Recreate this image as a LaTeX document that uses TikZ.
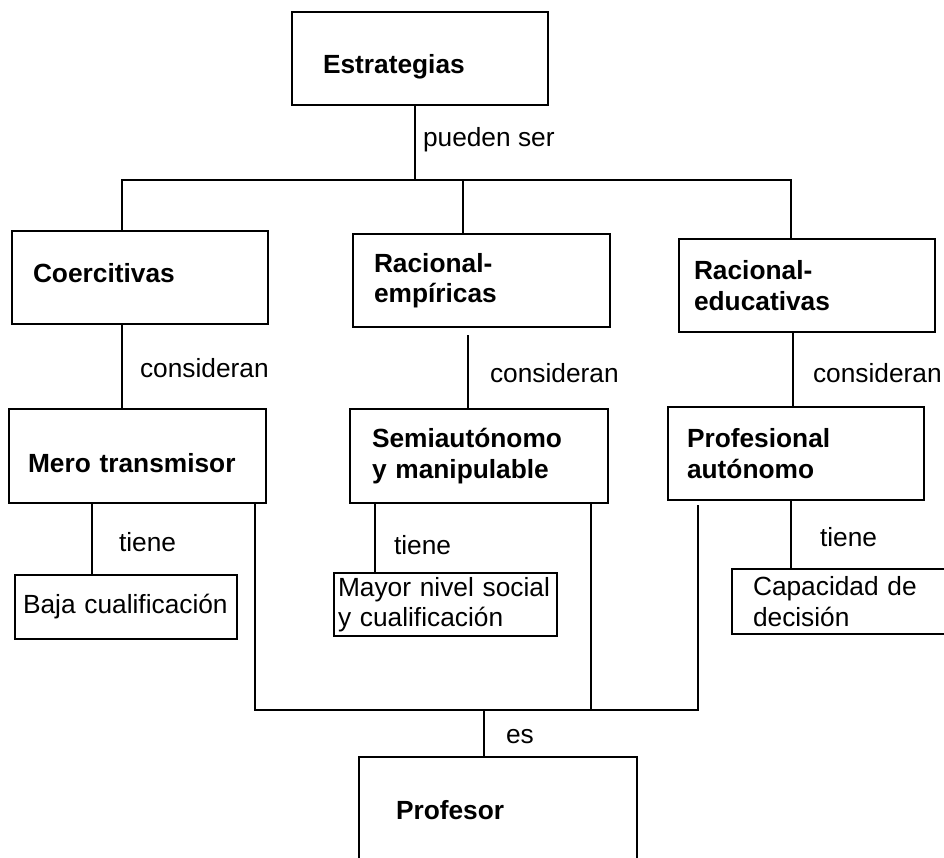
\documentclass[tikz,border=0pt]{standalone}
\usepackage{fontspec}
\setmainfont{Liberation Sans}
\usetikzlibrary{calc}
\begin{document}
\begin{tikzpicture}[x=1pt,y=-1pt,line width=2pt,
  every node/.style={font=\fontsize{26.3}{30.5}\selectfont},
  box/.style={draw,rectangle,inner sep=0pt,align=left,font=\fontsize{26.3}{30.5}\selectfont\bfseries},
  plainbox/.style={draw,rectangle,inner sep=0pt,align=left,font=\fontsize{26.3}{30.5}\selectfont},
  boxsz/.style n args={3}{minimum width=#1pt,minimum height=#2pt,text width=#3pt},
  lbl/.style={anchor=west,inner sep=0pt}]
\useasboundingbox (0,0) rectangle (944,857);
\clip (0,0) rectangle (944,857);
% boxes
\node[box,boxsz={256}{93}{194},text height=29pt,text depth=0pt] (est) at (420,58.5) {Estrategias};
\node[box,boxsz={256}{93}{214},text height=10pt,text depth=0pt] (coer) at (140,277.5) {Coercitivas};
\node[box,boxsz={257}{93}{215}] (remp) at (481.5,280.5) {Racional-\\empíricas};
\node[box,boxsz={256}{93}{226}] (redu) at (807,285.5) {Racional-\\educativas};
\node[box,boxsz={257}{94}{219},text height=33pt,text depth=0pt] (mero) at (137.5,456) {Mero transmisor};
\node[box,boxsz={258}{94}{214}] (semi) at (479,456) {Semiautónomo\\y manipulable};
\node[box,boxsz={256}{93}{218}] (prof) at (796,453.5) {Profesional\\autónomo};
\node[plainbox,boxsz={222}{64}{206}] (baja) at (126,607) {\mbox{Baja cualificación}};
\node[plainbox,boxsz={223}{63}{215}] (mayor) at (445.5,604.5) {Mayor nivel social\\y cualificación};
\node[plainbox,boxsz={228}{65}{186}] (cap) at (846,601.5) {Capacidad de\\decisión};
\node[box,boxsz={278}{113}{204},text height=12pt,text depth=0pt] (profe) at (498,813.5) {Profesor};
% x positions
\coordinate (x92) at (92,0);
\coordinate (x122) at (122,0);
\coordinate (x375) at (375,0);
\coordinate (x468) at (468,0);
\coordinate (x791) at (791,0);
\coordinate (x793) at (793,0);
% junctions
\coordinate (jt) at (415,180);
\coordinate (jl) at (122,180);
\coordinate (jm) at (463,180);
\coordinate (jr) at (791,180);
\coordinate (bl) at (255,710);
\coordinate (bm) at (591,710);
\coordinate (br) at (698,710);
\coordinate (bc) at (484,710);
% connectors
\draw (est.south -| jt) -- (jt);
\draw (coer.north -| jl) -- (jl) -- (jr) -- (redu.north -| jr);
\draw (jm) -- (remp.north -| jm);
\draw (coer.south -| x122) -- (mero.north -| x122);
\draw ($(remp.south -| x468)+(0,7)$) -- (semi.north -| x468);
\draw (redu.south -| x793) -- (prof.north -| x793);
\draw (mero.south -| x92) -- (baja.north -| x92);
\draw (semi.south -| x375) -- (mayor.north -| x375);
\draw (prof.south -| x791) -- (cap.north -| x791);
\draw (mero.south -| bl) -- (bl) -- (br) -- ($(prof.south -| br)+(0,4)$);
\draw (semi.south -| bm) -- (bm);
\draw (bc) -- (profe.north -| bc);
% labels
\node[lbl] (l1) at (422,140) {pueden ser};
\node[lbl] (l2) at (139,368) {consideran};
\node[lbl] (l3) at (489,373) {consideran};
\node[lbl] (l4) at (812,373) {consideran};
\node[lbl] (l5) at (118,542) {tiene};
\node[lbl] (l6) at (393,545) {tiene};
\node[lbl] (l7) at (819,537) {tiene};
\node[lbl] (l8) at (505,737) {es};
\end{tikzpicture}
\end{document}
